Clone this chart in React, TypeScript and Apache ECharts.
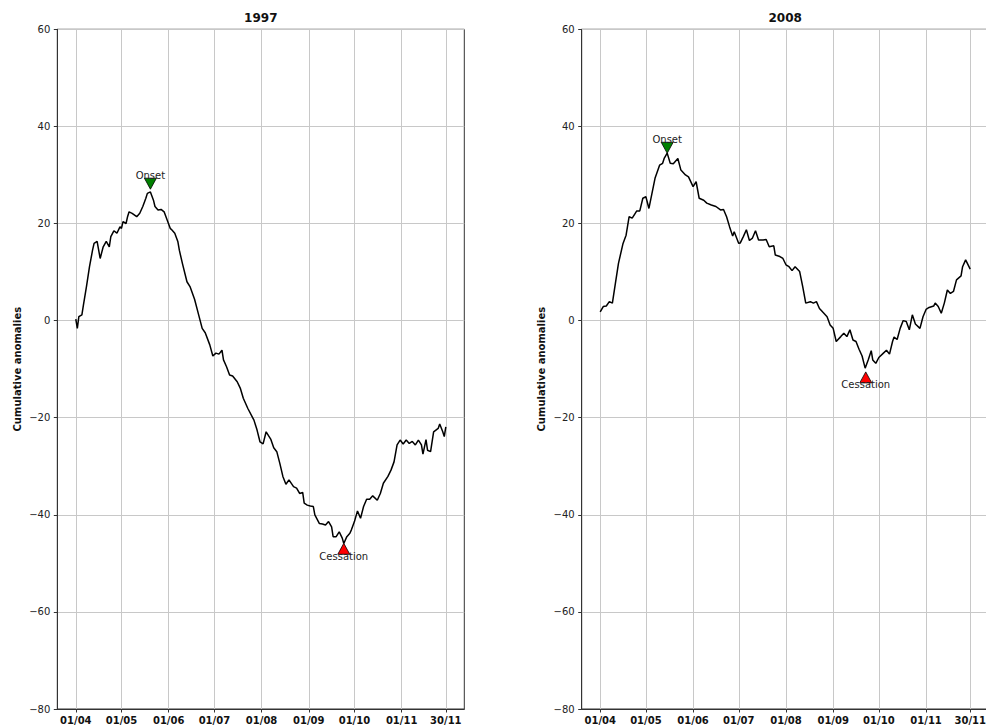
import React, { useEffect, useRef } from "react";
import * as echarts from "echarts";

// X axis: day index counted from 1 April
const tickDays = [0, 30, 61, 91, 122, 153, 183, 214, 243];
const tickLabels = ["01/04", "01/05", "01/06", "01/07", "01/08", "01/09", "01/10", "01/11", "30/11"];
const yMin = -80;
const yMax = 60;
const yStep = 20;
const titles = ["1997", "2008"];
const yName = "Cumulative anomalies";

const days1997 = [
  0, 1, 2, 4, 5, 7, 9, 11, 12, 14, 16, 18, 20, 22, 23, 25, 27, 29, 30, 31, 33, 34, 35, 37, 40, 42, 44, 46, 47, 49,
  51, 52, 54, 56, 58, 60, 62, 63, 65, 67, 68, 70, 73, 75, 78, 80, 83, 85, 88, 90, 92, 94, 96, 97, 99, 101, 103, 106,
  108, 110, 113, 117, 119, 121, 123, 125, 128, 130, 132, 134, 136, 138, 140, 143, 145, 147, 149, 150, 152, 154, 156,
  157, 160, 162, 164, 166, 168, 169, 171, 173, 175, 176, 178, 180, 181, 183, 185, 187, 189, 191, 193, 195, 198, 200,
  202, 205, 207, 209, 211, 213, 215, 217, 219, 221, 223, 225, 227, 228, 230, 231, 233, 235, 238, 239, 241, 242, 243,
];
const values1997 = [
  0.3, -1.6, 0.8, 1.2, 3.2, 7.0, 11.1, 14.5, 15.9, 16.3, 12.8, 15.2, 16.3, 15.2, 17.3, 18.5, 18.0, 19.3, 19.0, 20.4,
  20.0, 21.4, 22.4, 22.1, 21.4, 22.1, 23.5, 25.2, 26.2, 26.5, 24.8, 23.5, 22.8, 22.9, 22.4, 20.7, 19.0, 18.7, 18.0,
  16.3, 14.5, 11.8, 8.0, 7.0, 4.4, 2.0, -1.6, -2.5, -5.0, -7.3, -6.7, -6.9, -6.1, -8.1, -9.5, -11.2, -11.4, -12.6,
  -13.9, -16.0, -18.1, -20.5, -22.5, -25.0, -25.4, -22.9, -24.4, -26.2, -27.0, -29.4, -32.1, -33.7, -32.8, -34.2,
  -34.5, -35.6, -35.4, -37.6, -38.0, -38.2, -38.3, -40.0, -41.8, -41.9, -42.1, -41.4, -42.5, -44.5, -44.5, -43.5,
  -44.8, -45.9, -44.5, -43.8, -43.1, -41.4, -39.2, -40.7, -38.3, -36.8, -36.8, -36.1, -37.0, -35.6, -33.5, -32.1,
  -30.8, -29.1, -25.6, -24.6, -25.4, -24.6, -25.3, -24.9, -25.6, -24.6, -25.6, -27.5, -24.5, -26.7, -27.0, -22.9,
  -22.2, -21.3, -22.9, -23.9, -21.9,
];

const days2008 = [
  0, 2, 4, 6, 8, 10, 12, 15, 17, 19, 21, 23, 24, 26, 28, 30, 32, 34, 36, 39, 41, 42, 44, 46, 48, 51, 53, 56, 58, 61,
  63, 65, 68, 70, 73, 76, 79, 81, 83, 85, 87, 88, 91, 92, 94, 96, 98, 100, 102, 104, 107, 109, 111, 114, 115, 118,
  120, 122, 124, 126, 128, 131, 133, 135, 138, 140, 142, 144, 146, 149, 151, 153, 155, 158, 160, 162, 164, 166, 168,
  170, 172, 174, 176, 178, 179, 181, 183, 186, 188, 190, 192, 193, 195, 197, 199, 201, 203, 205, 207, 210, 212, 214,
  216, 219, 220, 222, 224, 226, 228, 230, 232, 234, 237, 238, 240, 243,
];
const values2008 = [
  1.8, 2.9, 3.0, 3.9, 3.6, 7.7, 11.8, 15.9, 17.6, 21.4, 21.1, 22.1, 22.6, 22.6, 25.2, 25.5, 23.1, 26.2, 29.3, 32.0,
  32.4, 33.4, 34.5, 32.4, 32.3, 33.4, 31.0, 30.0, 29.6, 27.6, 28.6, 25.2, 24.8, 24.2, 23.8, 23.5, 22.8, 22.9, 21.4,
  19.3, 17.4, 18.3, 15.9, 16.0, 17.3, 18.7, 16.5, 17.0, 18.5, 16.6, 16.6, 16.7, 15.2, 15.4, 13.5, 13.2, 12.8, 11.5,
  11.1, 10.3, 11.1, 10.1, 7.0, 3.6, 3.9, 3.6, 3.9, 2.5, 1.8, 0.8, -0.9, -1.6, -4.3, -3.3, -2.6, -3.3, -1.9, -4.0,
  -4.3, -5.9, -7.3, -9.8, -8.1, -6.2, -8.1, -8.8, -7.6, -6.7, -6.1, -6.9, -4.3, -3.4, -3.9, -1.6, 0.0, -0.2, -1.9,
  1.2, -0.7, -1.6, 0.8, 2.3, 2.7, 3.0, 3.6, 2.9, 1.5, 3.6, 6.3, 5.6, 6.0, 8.4, 9.2, 11.1, 12.5, 10.6,
];

// [day, value] of the event markers
const onset1997 = [49, 28.2];
const cessation1997 = [176, -47.0];
const onset2008 = [44, 35.6];
const cessation2008 = [174.4, -11.7];

const FONT = "DejaVu Sans";
const gridLefts = [57.3, 581.7];
const gridTop = 29.3;
const gridWidth = 407;
const gridHeight = 679.7;

function pairs(d: number[], v: number[]) {
  return d.map((x, i) => [x, v[i]]);
}

function makeX(gi: number) {
  return {
    type: "value",
    gridIndex: gi,
    min: -12.15,
    max: 255.15,
    axisLine: { show: true, onZero: false, lineStyle: { color: "#333", width: 1 } },
    axisTick: { show: true, length: 3.5, customValues: tickDays, lineStyle: { color: "#333", width: 1 } },
    axisLabel: {
      customValues: tickDays,
      formatter: (v: number) => {
        const i = tickDays.indexOf(Math.round(v));
        return i >= 0 ? tickLabels[i] : "";
      },
      fontFamily: FONT,
      fontWeight: "bold",
      fontSize: 10,
      color: "#111",
      margin: 6,
    },
    splitLine: { show: true, lineStyle: { color: "#c8c8c8", width: 1 } },
  };
}

function makeY(gi: number) {
  return {
    type: "value",
    gridIndex: gi,
    min: yMin,
    max: yMax,
    interval: yStep,
    axisLine: { show: true, onZero: false, lineStyle: { color: "#333", width: 1 } },
    axisTick: { show: true, length: 3.5, lineStyle: { color: "#333", width: 1 } },
    axisLabel: {
      formatter: (v: number) => (v < 0 ? "\u2212" + Math.abs(v) : String(v)),
      fontFamily: FONT,
      fontSize: 10,
      color: "#222",
      margin: 7,
    },
    splitLine: { show: true, lineStyle: { color: "#c8c8c8", width: 1 } },
    name: yName,
    nameLocation: "middle",
    nameGap: 35,
    nameTextStyle: { fontFamily: FONT, fontWeight: "bold", fontSize: 10, color: "#111" },
  };
}

const downTri = "path://M0,0 L10,0 L5,10 Z";
const upTri = "path://M5,0 L10,10 L0,10 Z";

function marker(gi: number, pt: number[], isOnset: boolean) {
  return {
    type: "scatter",
    xAxisIndex: gi,
    yAxisIndex: gi,
    data: [pt],
    symbol: isOnset ? downTri : upTri,
    symbolSize: [12, 11],
    z: 5,
    itemStyle: {
      color: isOnset ? "#008000" : "#ff0000",
      borderColor: "#000",
      borderWidth: 0.8,
      opacity: 1,
    },
    label: {
      show: true,
      formatter: isOnset ? "Onset" : "Cessation",
      position: "inside",
      offset: isOnset ? [0, -8.5] : [0, 7.5],
      fontFamily: FONT,
      fontSize: 10,
      color: "#222",
    },
    emphasis: { disabled: true },
  };
}

function line(gi: number, d: number[], v: number[]) {
  return {
    type: "line",
    xAxisIndex: gi,
    yAxisIndex: gi,
    data: pairs(d, v),
    showSymbol: false,
    symbol: "none",
    z: 3,
    lineStyle: { color: "#000", width: 1.5 },
    emphasis: { disabled: true },
  };
}

export default function App() {
  const ref = useRef<HTMLDivElement>(null);
  useEffect(() => {
    if (!ref.current) return;
    const chart = echarts.init(ref.current, null, { renderer: "svg" });
    chart.setOption({
      animation: false,
      textStyle: { fontFamily: FONT },
      grid: gridLefts.map((l) => ({
        left: l,
        top: gridTop,
        width: gridWidth,
        height: gridHeight,
        show: true,
        borderColor: "#333",
        borderWidth: 1,
        backgroundColor: "transparent",
        containLabel: false,
        outerBoundsMode: "none",
      })),
      xAxis: [makeX(0), makeX(1)],
      yAxis: [makeY(0), makeY(1)],
      graphic: titles.map((t, i) => ({
        type: "text",
        x: gridLefts[i] + gridWidth / 2,
        y: 18.3,
        style: {
          text: t,
          align: "center",
          verticalAlign: "middle",
          font: `bold 12px "${FONT}"`,
          fill: "#111",
        },
      })),
      series: [
        line(0, days1997, values1997),
        line(1, days2008, values2008),
        marker(0, onset1997, true),
        marker(0, cessation1997, false),
        marker(1, onset2008, true),
        marker(1, cessation2008, false),
      ],
    });
    return () => chart.dispose();
  }, []);
  return (
    <div
      ref={ref}
      style={{ position: "absolute", left: 0, top: 0, width: 986, height: 727, background: "#fff" }}
    />
  );
}
